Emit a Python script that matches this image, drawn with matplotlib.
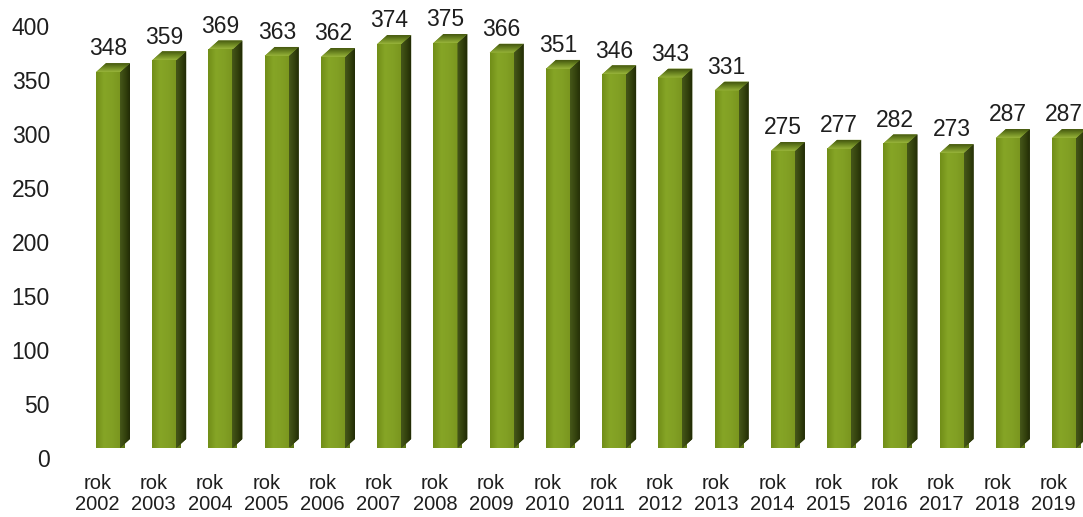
import numpy as np
import matplotlib
matplotlib.use('Agg')
import matplotlib.pyplot as plt
from matplotlib.patches import Polygon, Rectangle
from matplotlib.colors import LinearSegmentedColormap
import matplotlib.transforms as mtransforms

plt.rcParams['font.family'] = ['Liberation Sans', 'DejaVu Sans']

years = [2002, 2003, 2004, 2005, 2006, 2007, 2008, 2009, 2010,
         2011, 2012, 2013, 2014, 2015, 2016, 2017, 2018, 2019]
values = [348, 359, 369, 363, 362, 374, 375, 366, 351,
          346, 343, 331, 275, 277, 282, 273, 287, 287]
cat_labels = ['rok\n' + str(y) for y in years]
yticks = [0, 50, 100, 150, 200, 250, 300, 350, 400]

W, H = 1083, 517
fig = plt.figure(figsize=(W / 100, H / 100), dpi=100)

# axes placed in pixels: y=0 at 448px from top, y=400 at 16px
ax = fig.add_axes([70 / W, (H - 448) / H, (W - 70) / W, (448 - 16) / H])
px_per_x = 56.24
px_per_y = 432 / 400

half_w = 12 / px_per_x
dx = 10 / px_per_x
dy = 9 / px_per_y

front_cmap = LinearSegmentedColormap.from_list(
    'front', ['#718e18', '#86a526', '#82a024', '#7a961f'])
side_cmap = LinearSegmentedColormap.from_list(
    'side', ['#46571a', '#35440e', '#222b06'])
top_cmap = LinearSegmentedColormap.from_list(
    'top', ['#98b43a', '#6d8722', '#45570f'])
grad = np.linspace(0, 1, 64).reshape(1, -1)

for i, v in enumerate(values):
    xl, xr = i - half_w, i + half_w
    # solid backing to hide seams between gradient pieces
    ax.add_patch(Rectangle((xl, 0), xr - xl + dx * 0.5, v, facecolor='#5d7616',
                           edgecolor='none', zorder=1))
    # front face
    ax.imshow(grad, cmap=front_cmap, extent=(xl, xr, 0, v),
              aspect='auto', interpolation='bilinear', zorder=2)
    # side face
    side = Polygon([(xr, 0), (xr + dx, dy), (xr + dx, v + dy), (xr, v)],
                   closed=True, facecolor='#35440e', edgecolor='none', zorder=1.5)
    ax.add_patch(side)
    im = ax.imshow(grad, cmap=side_cmap, extent=(xr, xr + dx, 0, v + dy),
                   aspect='auto', interpolation='bilinear', zorder=2)
    im.set_clip_path(side)
    # top face
    top = Polygon([(xl, v), (xl + dx, v + dy), (xr + dx, v + dy), (xr, v)],
                  closed=True, facecolor='#6d8722', edgecolor='none', zorder=1.5)
    ax.add_patch(top)
    im2 = ax.imshow(grad.T[::-1], cmap=top_cmap,
                    extent=(xl, xr + dx, v, v + dy), aspect='auto',
                    interpolation='bilinear', zorder=3)
    im2.set_clip_path(top)
    ax.text(i, v + dy + 2.5, str(v), ha='center', va='bottom',
            fontsize=16.5, color='#1e1e1e', clip_on=False)

ax.set_xlim(-38 / px_per_x, (W - 108) / px_per_x)
ax.set_ylim(0, 400)

ax.set_yticks(yticks)
ax.set_yticklabels([str(t) for t in yticks], fontsize=16.5, color='#1e1e1e')
ax.set_xticks(range(len(years)))
ax.set_xticklabels(cat_labels, fontsize=14.5, color='#1e1e1e', linespacing=1.1)
ax.tick_params(axis='y', length=0, pad=14.5)
ax.tick_params(axis='x', length=0, pad=19)

y_off = mtransforms.ScaledTranslation(0, -10 / 100, fig.dpi_scale_trans)
for lab in ax.get_yticklabels():
    lab.set_transform(lab.get_transform() + y_off)
x_off = mtransforms.ScaledTranslation(-10.5 / 100, 0, fig.dpi_scale_trans)
for lab in ax.get_xticklabels():
    lab.set_transform(lab.get_transform() + x_off)

for s in ax.spines.values():
    s.set_visible(False)

fig.savefig('out.png', dpi=100)
